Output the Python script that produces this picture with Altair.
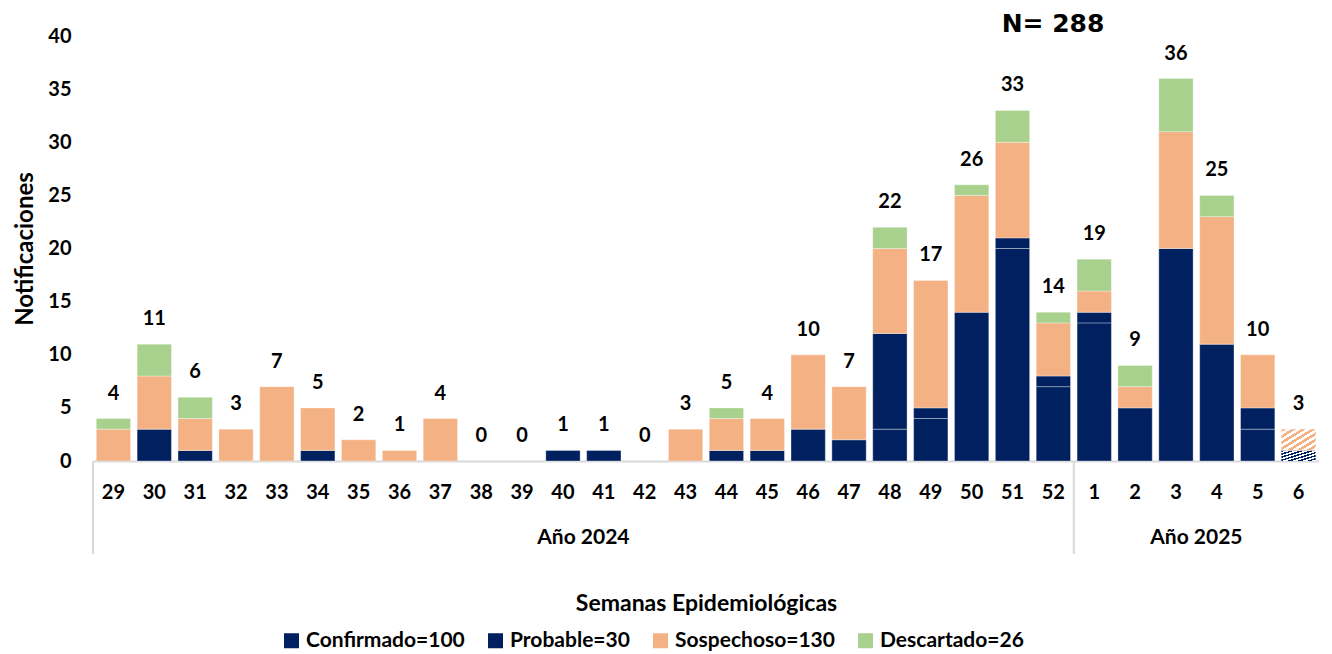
import altair as alt
import pandas as pd

# ---------------- data ----------------
weeks = [29, 30, 31, 32, 33, 34, 35, 36, 37, 38, 39, 40, 41, 42, 43, 44, 45, 46, 47, 48, 49, 50, 51, 52,
         1, 2, 3, 4, 5, 6]
years = ["2024"] * 24 + ["2025"] * 6
confirmado = [0, 0, 0, 0, 0, 0, 0, 0, 0, 0, 0, 0, 0, 0, 0, 0, 0, 0, 0, 3, 4, 14, 20, 7,
              13, 5, 20, 11, 3, 0]
probable = [0, 3, 1, 0, 0, 1, 0, 0, 0, 0, 0, 1, 1, 0, 0, 1, 1, 3, 2, 9, 1, 0, 1, 1,
            1, 0, 0, 0, 2, 1]
sospechoso = [3, 5, 3, 3, 7, 4, 2, 1, 4, 0, 0, 0, 0, 0, 3, 3, 3, 7, 5, 8, 12, 11, 9, 5,
              2, 2, 11, 12, 5, 2]
descartado = [1, 3, 2, 0, 0, 0, 0, 0, 0, 0, 0, 0, 0, 0, 0, 1, 0, 0, 0, 2, 0, 1, 3, 1,
              3, 2, 5, 2, 0, 0]
series_names = ["Confirmado=100", "Probable=30", "Sospechoso=130", "Descartado=26"]
series_colors = ["#002060", "#002060", "#F4B183", "#A9D18E"]
year_labels = ["Año 2024", "Año 2025"]
year_values = ["2024", "2025"]
hatched_keys = ["2025-6"]  # semana en curso (incompleta)

x_title = "Semanas Epidemiológicas"
y_title = "Notificaciones"

# ---------------- tables ----------------
keys = [f"{y}-{w}" for y, w in zip(years, weeks)]
series_values = [confirmado, probable, sospechoso, descartado]
rows = []
for i, k in enumerate(keys):
    for j, name in enumerate(series_names):
        rows.append({"key": k, "serie": name, "order": j,
                     "value": series_values[j][i], "hatched": k in hatched_keys})
df = pd.DataFrame(rows)

first_keys, mid_keys = [], []
for yv in year_values:
    idx = [i for i, y in enumerate(years) if y == yv]
    first_keys.append(keys[idx[0]])
    mid_keys.append(keys[idx[0] + len(idx) // 2])
rules_df = pd.DataFrame({"key": first_keys})
years_df = pd.DataFrame({"key": mid_keys, "label": year_labels})

# ---------------- styling ----------------
W, H = 1226, 425
FONT = "Lato"
x_scale = alt.Scale(domain=keys, paddingInner=0, paddingOuter=0)
y_scale = alt.Scale(domain=[0, 40], nice=False)
band = {"band": 0.84}


def stripes(color, n=7):
    stops = []
    for k in range(n):
        a, b, c = k / n, (k + 0.5) / n, (k + 1) / n
        stops += [{"offset": a, "color": color}, {"offset": b, "color": color},
                  {"offset": b, "color": "white"}, {"offset": c, "color": "white"}]
    return {"gradient": "linear", "stops": stops, "x1": 0, "y1": 0, "x2": 1, "y2": 1}


base = alt.Chart(df).transform_stack(
    stack="value", groupby=["key"], as_=["y0", "y1"],
    sort=[alt.SortField("order", order="ascending")]
)

bars = base.transform_filter("datum.value > 0 && !datum.hatched").mark_bar(
    width=band, stroke="white", strokeWidth=1, strokeOpacity=0.35
).encode(
    x=alt.X("key:N", scale=x_scale, title=x_title,
            axis=alt.Axis(labelAngle=0, labelExpr="split(datum.label, '-')[1]",
                          domainColor="#d9d9d9", domainWidth=2, ticks=False,
                          labelPadding=21, labelFontSize=20, titleFontSize=23,
                          titlePadding=90)),
    y=alt.Y("y0:Q", scale=y_scale, title=y_title,
            axis=alt.Axis(values=list(range(0, 45, 5)), domain=False, ticks=False,
                          grid=False, labelPadding=22, titlePadding=10,
                          labelFontSize=20, titleFontSize=24)),
    y2="y1:Q",
    color=alt.Color("serie:N", scale=alt.Scale(domain=series_names, range=series_colors),
                    legend=alt.Legend(title=None, orient="none", legendX=188, legendY=594,
                                      direction="horizontal", symbolType="square",
                                      symbolSize=225, symbolStrokeWidth=0,
                                      labelFont=FONT, labelFontWeight="bold",
                                      labelFontSize=21, labelColor="black",
                                      columnPadding=20, labelOffset=4, padding=0,
                                      labelLimit=0)),
)

hatch_layers = []
for name, color in zip(series_names, series_colors):
    hatch_layers.append(
        base.transform_filter(
            f"datum.value > 0 && datum.hatched && datum.serie == '{name}'"
        ).mark_bar(width=band, fill=stripes(color), strokeWidth=0).encode(
            x=alt.X("key:N", scale=x_scale),
            y=alt.Y("y0:Q", scale=y_scale),
            y2="y1:Q",
        )
    )

totals = alt.Chart(df).transform_aggregate(
    total="sum(value)", groupby=["key"]
).mark_text(font=FONT, fontWeight="bold", fontSize=20, dy=-25, baseline="middle",
            color="black").encode(
    x=alt.X("key:N", scale=x_scale),
    y=alt.Y("total:Q", scale=y_scale),
    text="total:Q",
)

n_text = alt.Chart(df).transform_aggregate(total="sum(value)").transform_calculate(
    label="'N= ' + datum.total"
).mark_text(font="DejaVu Sans", fontWeight="bold", fontSize=25, align="center",
            baseline="alphabetic", color="black").encode(
    x=alt.value(960), y=alt.value(-4), text="label:N"
)

sep_rules = alt.Chart(rules_df).mark_rule(color="#d9d9d9", strokeWidth=2).encode(
    x=alt.X("key:N", scale=x_scale, bandPosition=0),
    y=alt.value(H), y2=alt.value(H + 93),
)

year_text = alt.Chart(years_df).mark_text(
    font=FONT, fontWeight="bold", fontSize=21, baseline="middle", color="black"
).encode(
    x=alt.X("key:N", scale=x_scale, bandPosition=0),
    y=alt.value(H + 77),
    text="label:N",
)

chart = alt.layer(bars, *hatch_layers, totals, n_text, sep_rules, year_text).properties(
    width=W, height=H, padding={"left": 5, "top": 4, "right": 0, "bottom": 0}
).configure_view(stroke=None).configure_axis(
    labelFont=FONT, labelFontWeight="bold", labelColor="black",
    titleFont=FONT, titleFontWeight="bold", titleColor="black", grid=False
)

chart.save("out.html", embed_options={"renderer": "svg", "actions": False})
